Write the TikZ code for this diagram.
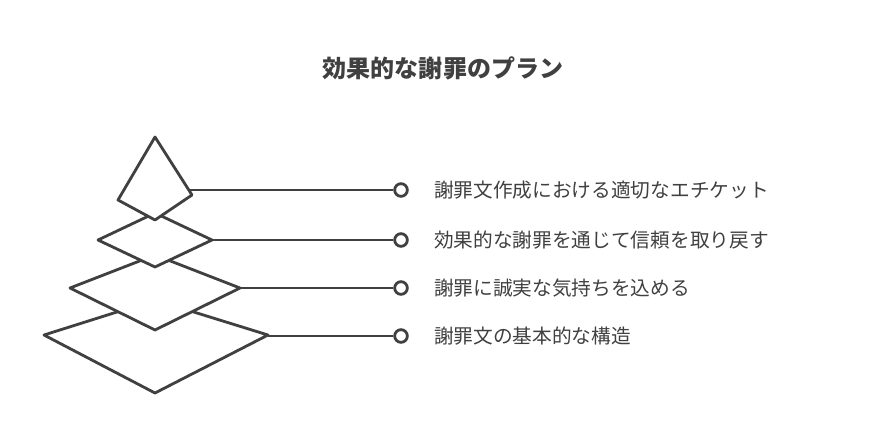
\documentclass[tikz,border=0pt]{standalone}
\usepackage{fontspec}
\setmainfont{Noto Sans CJK JP}
\usetikzlibrary{positioning, calc}

\begin{document}
\begin{tikzpicture}[
        x=0.03cm, y=-0.03cm,
        layer/.style={draw=black!75, line width=2.4pt, fill=white, line join=round},
        link/.style={draw=black!75, line width=2.4pt},
        dot/.style={circle, draw=black!75, line width=2.4pt, fill=white, minimum size=0.38cm, inner sep=0pt},
        label/.style={anchor=west, font=\fontsize{16.8}{19}\selectfont, text=black!75}
    ]
    \useasboundingbox (0,0) rectangle (888,444);

    % Title
    \node[font=\bfseries\fontsize{20.5}{24}\selectfont, text=black!75] (title) at (443,68) {効果的な謝罪のプラン};

    % Layers (bottom first)
    \draw[layer] (44,335) -- (155,300) -- (268,335) -- (155,393) -- cycle;
    \draw[layer] (70,288) -- (155,255) -- (240,288) -- (155,330) -- cycle;
    \draw[layer] (98,240) -- (155,213) -- (212,240) -- (155,267) -- cycle;
    \draw[layer] (118,200) -- (155,137) -- (192,195) -- (155,220) -- cycle;

    % Anchor points on the layers
    \coordinate (l1) at (190,190);
    \coordinate (l2) at (212,240);
    \coordinate (l3) at (240,288);
    \coordinate (l4) at (268,336);

    % Markers and texts
    \foreach \i/\y/\txt in {1/190/謝罪文作成における適切なエチケット,
                            2/240/効果的な謝罪を通じて信頼を取り戻す,
                            3/288/謝罪に誠実な気持ちを込める,
                            4/336/謝罪文の基本的な構造} {
        \node[dot] (d\i) at (401,\y) {};
        \node[label] (t\i) at (430,\y) {\txt};
        \draw[link] (l\i) -- (d\i);
    }

\end{tikzpicture}
\end{document}
